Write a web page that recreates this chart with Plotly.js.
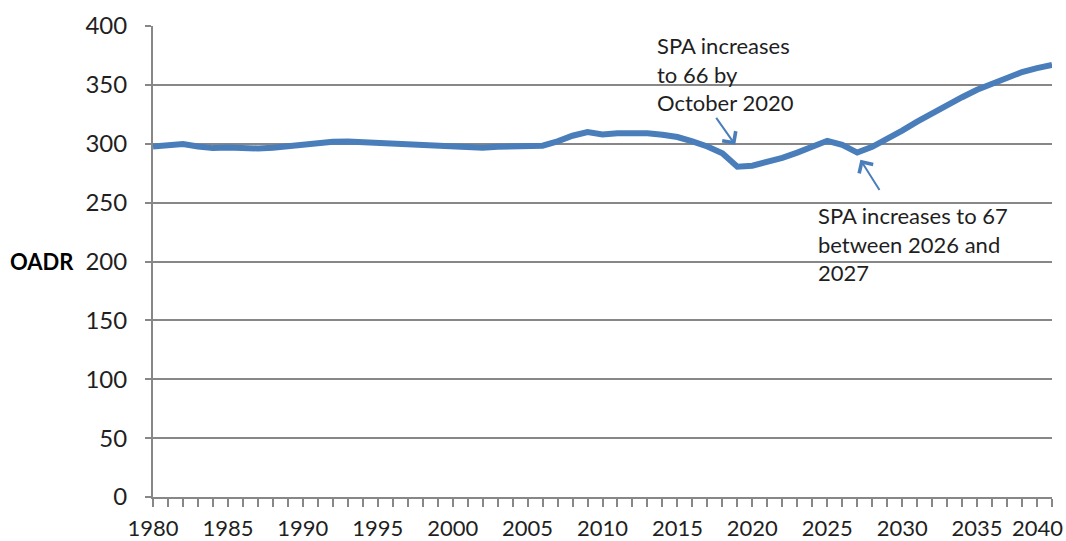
<!DOCTYPE html>
<html>
<head>
<meta charset="utf-8">
<script src="https://cdn.plot.ly/plotly-3.0.1.min.js"></script>
<style>
  html, body { margin: 0; padding: 0; background: #ffffff; }
  #chart { width: 1066px; height: 541px; }
</style>
</head>
<body>
<div id="chart"></div>
<script>
// Years (x categories)
const years = [
  1980, 1981, 1982, 1983, 1984, 1985, 1986, 1987, 1988, 1989,
  1990, 1991, 1992, 1993, 1994, 1995, 1996, 1997, 1998, 1999,
  2000, 2001, 2002, 2003, 2004, 2005, 2006, 2007, 2008, 2009,
  2010, 2011, 2012, 2013, 2014, 2015, 2016, 2017, 2018, 2019,
  2020, 2021, 2022, 2023, 2024, 2025, 2026, 2027, 2028, 2029,
  2030, 2031, 2032, 2033, 2034, 2035, 2036, 2037, 2038, 2039,
  2040
];

// Old age dependency ratio (OADR)
const oadr = [
  297.7, 298.6, 299.7, 297.7, 296.3, 296.9, 296.3, 296.0, 296.6, 298.0,
  299.4, 300.8, 301.7, 302.0, 301.4, 300.6, 300.0, 299.7, 299.2, 298.6,
  298.0, 297.2, 296.6, 297.5, 297.7, 297.7, 298.3, 302.0, 306.8, 310.0,
  307.8, 309.0, 309.6, 309.0, 307.6, 305.7, 302.0, 297.7, 292.0, 280.5,
  281.3, 284.0, 288.0, 292.5, 297.7, 302.5, 299.0, 292.5, 297.4, 304.0,
  311.2, 318.7, 325.9, 333.0, 339.5, 345.9, 350.6, 354.9, 360.9, 364.2,
  367.0
];

const yTicks = [0, 50, 100, 150, 200, 250, 300, 350, 400];
const xTickYears = [1980, 1985, 1990, 1995, 2000, 2005, 2010, 2015, 2020, 2025, 2030, 2035];
const lastYearLabel = '2040';

const lineBlue = '#4a7ebb';
const gridGray = '#878787';
const textColor = '#1f1f1f';
const fontFam = 'Lato, "Open Sans", "DejaVu Sans", sans-serif';

const trace = {
  x: years,
  y: oadr,
  type: 'scatter',
  mode: 'lines',
  line: { color: lineBlue, width: 6 },
  hoverinfo: 'x+y',
  showlegend: false
};

const layout = {
  width: 1066,
  height: 541,
  margin: { l: 153, r: 14, t: 26, b: 44 },
  paper_bgcolor: '#ffffff',
  plot_bgcolor: '#ffffff',
  font: { family: fontFam, color: textColor, size: 22 },
  showlegend: false,
  xaxis: {
    range: [1980, 2040],
    tickmode: 'array',
    tickvals: xTickYears,
    ticktext: xTickYears.map(String),
    ticks: 'outside',
    ticklen: 8,
    tickwidth: 2,
    tickcolor: gridGray,
    minor: { dtick: 1, tick0: 1980, ticks: 'outside', ticklen: 8, tickwidth: 2, tickcolor: gridGray, showgrid: false },
    showgrid: false,
    zeroline: false,
    showline: true,
    linecolor: gridGray,
    linewidth: 2,
    tickfont: { family: fontFam, size: 22, color: textColor },
    ticklabelstandoff: 3,
    fixedrange: true
  },
  yaxis: {
    range: [0, 400],
    tickmode: 'array',
    tickvals: yTicks,
    ticktext: yTicks.map(String),
    ticks: 'outside',
    ticklen: 6,
    tickwidth: 2,
    tickcolor: gridGray,
    showgrid: true,
    gridcolor: gridGray,
    gridwidth: 2,
    zeroline: false,
    showline: true,
    linecolor: gridGray,
    linewidth: 2,
    tickfont: { family: fontFam, size: 24, color: textColor },
    ticklabelstandoff: 13,
    fixedrange: true
  },
  annotations: [
    {
      // last x label, pulled inside the page edge as in the reference
      xref: 'paper', yref: 'paper',
      x: (1065 - 153) / 899, y: -(527 - 497) / 471,
      xanchor: 'right', yanchor: 'middle',
      text: lastYearLabel,
      showarrow: false,
      font: { family: fontFam, size: 22, color: textColor }
    },
    {
      xref: 'paper', yref: 'y',
      x: -0.161, y: 200,
      xanchor: 'left', yanchor: 'middle',
      text: '<b>OADR</b>',
      showarrow: false,
      font: { family: fontFam, size: 22, color: '#000000' }
    },
    {
      xref: 'x', yref: 'y',
      x: 2018.86, y: 299.1,
      axref: 'x', ayref: 'y',
      ax: 2017.52, ay: 323.2,
      showarrow: true,
      arrowhead: 4,
      arrowsize: 1.6,
      arrowwidth: 2,
      arrowcolor: lineBlue,
      text: ''
    },
    {
      xref: 'x', yref: 'y',
      x: 2027.21, y: 286.4,
      axref: 'x', ayref: 'y',
      ax: 2028.55, ay: 259.5,
      showarrow: true,
      arrowhead: 4,
      arrowsize: 1.6,
      arrowwidth: 2,
      arrowcolor: lineBlue,
      text: ''
    },
    {
      xref: 'paper', yref: 'paper',
      x: (655 - 153) / 899, y: (497 - 30) / 471,
      xanchor: 'left', yanchor: 'top',
      align: 'left',
      showarrow: false,
      text: 'SPA increases<br>to 66 by<br>October 2020',
      font: { family: fontFam, size: 22, color: textColor }
    },
    {
      xref: 'paper', yref: 'paper',
      x: (816 - 153) / 899, y: (497 - 200) / 471,
      xanchor: 'left', yanchor: 'top',
      align: 'left',
      showarrow: false,
      text: 'SPA increases to 67<br>between 2026 and<br>2027',
      font: { family: fontFam, size: 22, color: textColor }
    }
  ]
};

Plotly.newPlot('chart', [trace], layout, { staticPlot: true, displayModeBar: false });
</script>
</body>
</html>
